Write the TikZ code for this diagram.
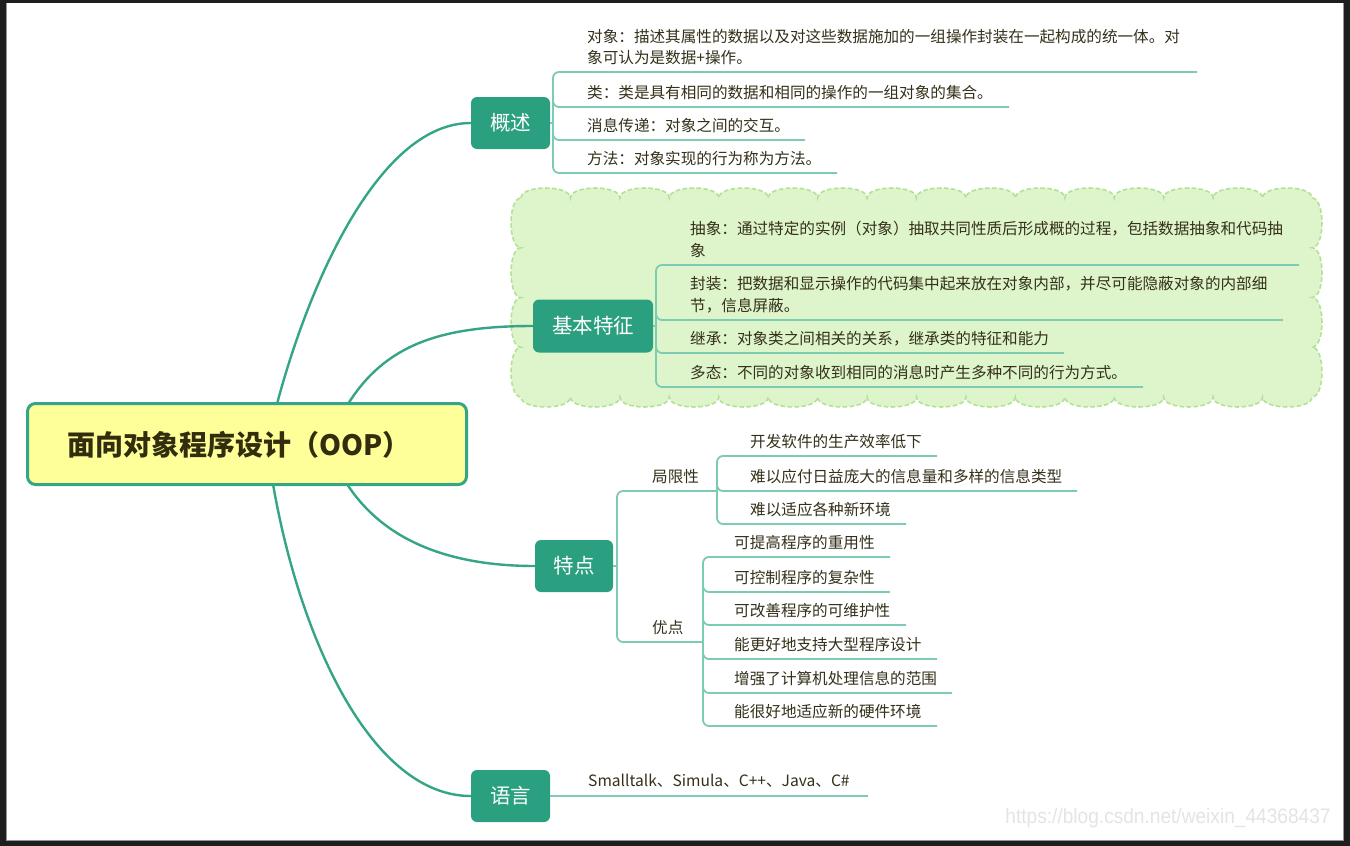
\documentclass[tikz,border=0pt]{standalone}
\usepackage{fontspec}
\newfontfamily\cjk{Noto Sans CJK SC}
\newfontfamily\wmfont{Liberation Sans}
\definecolor{teal1}{RGB}{43,160,128}
\definecolor{edgec}{RGB}{52,165,134}
\definecolor{leafc}{RGB}{125,203,178}
\definecolor{txt}{RGB}{52,48,26}
\definecolor{roottxt}{RGB}{50,45,12}
\definecolor{rootfill}{RGB}{255,255,153}
\definecolor{cloudfill}{RGB}{222,245,204}
\definecolor{clouddraw}{RGB}{178,226,150}
\definecolor{framec}{RGB}{30,30,30}
\definecolor{framegray}{RGB}{150,150,150}
\definecolor{wmc}{RGB}{228,228,228}
\begin{document}
\begin{tikzpicture}[x=1pt,y=-1pt,
  box/.style={fill=teal1, rounded corners=6pt, text=white, font=\cjk\fontsize{20.5}{24}\selectfont, inner sep=0pt},
  leaftext/.style={anchor=base west, text=txt, font=\cjk\fontsize{15.6}{20}\selectfont, inner sep=0pt},
  leaf/.style={draw=leafc, line width=1.8pt, rounded corners=6pt},
  mainedge/.style={draw=edgec, line width=2.4pt},
]
\useasboundingbox (0,0) rectangle (1350,846);
\fill[framec] (0,0) rectangle (1350,846);
\fill[framegray] (5.5,2.5) rectangle (1343.5,841);
\fill[white] (7,3) rectangle (1342.5,840);

% cloud behind 基本特征
\path[fill=cloudfill, draw=clouddraw, line width=1.6pt, dash pattern=on 4.5pt off 2.5pt]
  (521,198)
  \foreach \i in {1,...,16}{ .. controls ({521+(\i-1)*49.4375},184.7) and ({521+\i*49.4375},184.7) .. ({521+\i*49.4375},198) }
  \foreach \i in {1,...,4}{ .. controls (1325.3,{198+(\i-1)*49.75}) and (1325.3,{198+\i*49.75}) .. (1312,{198+\i*49.75}) }
  \foreach \i in {1,...,16}{ .. controls ({1312-(\i-1)*49.4375},410.3) and ({1312-\i*49.4375},410.3) .. ({1312-\i*49.4375},397) }
  \foreach \i in {1,...,4}{ .. controls (507.7,{397-(\i-1)*49.75}) and (507.7,{397-\i*49.75}) .. (521,{397-\i*49.75}) }
  -- cycle;

% branch boxes
\node[box, minimum width=79pt, minimum height=52pt] (gs) at (510.5,123) {概述};
\node[box, minimum width=120pt, minimum height=53pt] (jb) at (593,326) {基本特征};
\node[box, minimum width=78pt, minimum height=52pt] (td) at (574,566) {特点};
\node[box, minimum width=79pt, minimum height=52pt] (yy) at (510.5,796) {语言};

% main edges
\coordinate (r1) at (277,404);
\coordinate (r2) at (348,404);
\coordinate (r3) at (347,484);
\coordinate (r4) at (273,484);
\draw[mainedge] (r1) .. controls (310,280) and (380,123) .. (gs.west);
\draw[mainedge] (r2) .. controls (385,345) and (440,326) .. (jb.west);
\draw[mainedge] (r3) .. controls (380,535) and (440,566) .. (td.west);
\draw[mainedge] (r4) .. controls (300,640) and (372,796) .. (yy.west);

% root
\node[draw=edgec, line width=3pt, fill=rootfill, rounded corners=8pt, minimum width=439pt, minimum height=81pt, inner sep=0pt] (root) at (247,444) {};
\node[text=roottxt, font=\cjk\bfseries\fontsize{28}{32}\selectfont, inner sep=0pt] (rt) at (239,445) {面向对象程序设计（OOP）};

% ---- 概述 leaves
\draw[leaf] (gs.east) -- (553,123);
\draw[leaf] (1197,72) -- (553,72) -- (553,173) -- (837,173);
\draw[leaf] (553,97) -- (553,107) -- (1009,107);
\draw[leaf] (553,130) -- (553,140) -- (805,140);
\node[leaftext] (o1a) at (587,42.8) {对象：描述其属性的数据以及对这些数据施加的一组操作封装在一起构成的统一体。对};
\node[leaftext] (o1b) at (587,63.8) {象可认为是数据+操作。};
\node[leaftext] (o2) at (587,98.8) {类：类是具有相同的数据和相同的操作的一组对象的集合。};
\node[leaftext] (o3) at (587,131.8) {消息传递：对象之间的交互。};
\node[leaftext] (o4) at (587,164.8) {方法：对象实现的行为称为方法。};

% ---- 基本特征 leaves
\draw[leaf] (jb.east) -- (656,326);
\draw[leaf] (1299,265) -- (656,265) -- (656,387) -- (1143,387);
\draw[leaf] (656,310) -- (656,320) -- (1283,320);
\draw[leaf] (656,343) -- (656,353) -- (1064,353);
\node[leaftext] (c1a) at (690,234.8) {抽象：通过特定的实例（对象）抽取共同性质后形成概的过程，包括数据抽象和代码抽};
\node[leaftext] (c1b) at (690,256.8) {象};
\node[leaftext] (c2a) at (690,289.8) {封装：把数据和显示操作的代码集中起来放在对象内部，并尽可能隐蔽对象的内部细};
\node[leaftext] (c2b) at (690,311.8) {节，信息屏蔽。};
\node[leaftext] (c3) at (690,344.8) {继承：对象类之间相关的关系，继承类的特征和能力};
\node[leaftext] (c4) at (690,378.8) {多态：不同的对象收到相同的消息时产生多种不同的行为方式。};

% ---- 特点 leaves
\draw[leaf] (td.east) -- (617,566);
\draw[leaf] (717,491) -- (617,491) -- (617,642) -- (703,642);
\node[leaftext] (jx) at (652,482.8) {局限性};
\node[leaftext] (yd) at (652,633.8) {优点};
% 局限性 children
\draw[leaf] (937,456) -- (717,456) -- (717,524) -- (906,524);
\draw[leaf] (717,481) -- (717,491) -- (1077,491);
\node[leaftext] (j1) at (750,447.8) {开发软件的生产效率低下};
\node[leaftext] (j2) at (750,482.8) {难以应付日益庞大的信息量和多样的信息类型};
\node[leaftext] (j3) at (750,515.8) {难以适应各种新环境};
% 优点 children
\draw[leaf] (890,557) -- (703,557) -- (703,726) -- (937,726);
\draw[leaf] (703,582) -- (703,592) -- (890,592);
\draw[leaf] (703,615) -- (703,625) -- (906,625);
\draw[leaf] (703,649) -- (703,659) -- (937,659);
\draw[leaf] (703,683) -- (703,693) -- (952,693);
\node[leaftext] (y1) at (734,548.8) {可提高程序的重用性};
\node[leaftext] (y2) at (734,583.8) {可控制程序的复杂性};
\node[leaftext] (y3) at (734,616.8) {可改善程序的可维护性};
\node[leaftext] (y4) at (734,650.8) {能更好地支持大型程序设计};
\node[leaftext] (y5) at (734,684.8) {增强了计算机处理信息的范围};
\node[leaftext] (y6) at (734,717.8) {能很好地适应新的硬件环境};

% ---- 语言 leaf
\draw[leaf] (yy.east) -- ++(318,0);
\node[leaftext] (l1) at (588,786.8) {Smalltalk、Simula、C++、Java、C\#};

% watermark
\node[text=wmc, font=\wmfont\fontsize{21}{24}\selectfont, inner sep=0pt, xscale=0.91] (wm) at (1168,818) {https://blog.csdn.net/weixin\_44368437};
\end{tikzpicture}
\end{document}
